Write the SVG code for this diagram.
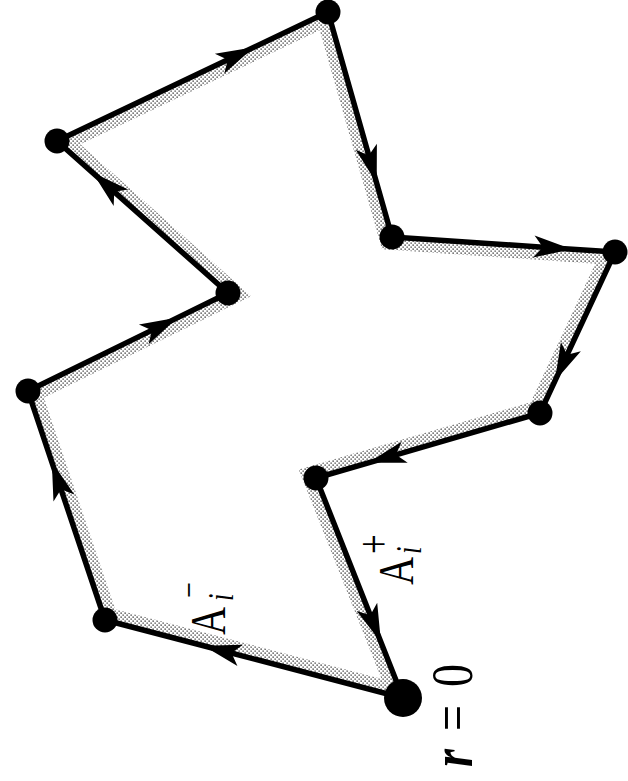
<svg xmlns="http://www.w3.org/2000/svg" width="628" height="781" viewBox="0 0 628 781">
  <style>
    .edge { fill: none; stroke: #000; stroke-width: 5.5; stroke-linejoin: round; marker-mid: url(#arrow); }
    .dot { fill: #000; }
    .band { fill: none; stroke: url(#stipple); stroke-width: 26; stroke-linejoin: miter; }
    .lbl { font-family: "Liberation Serif", "Times New Roman", serif; fill: #000; }
  </style>
  <defs>
    <pattern id="stipple" width="4" height="4" patternUnits="userSpaceOnUse">
      <rect width="4" height="4" fill="#ffffff"/>
      <rect x="0.4" y="0.4" width="1.5" height="1.5" fill="#5a5a5a"/>
      <rect x="2.4" y="2.4" width="1.5" height="1.5" fill="#6a6a6a"/>
    </pattern>
    <marker id="arrow" markerUnits="userSpaceOnUse" viewBox="-30 -13 44 26" refX="0" refY="0" markerWidth="44" markerHeight="26" orient="auto">
      <path d="M11,0 L-27,-11 L-18,0 L-27,11 Z" fill="#000"/>
    </marker>
    <clipPath id="inside">
      <polygon points="403,698 105,620 28,391 228,293 57,141 328,12 392,237 615,252 540,413 316,478"/>
    </clipPath>
  </defs>

  <rect width="628" height="781" fill="#ffffff"/>

  <g id="band">
    <polygon class="band" clip-path="url(#inside)" points="403,698 105,620 28,391 228,293 57,141 328,12 392,237 615,252 540,413 316,478"/>
  </g>

  <g id="connectors">
    <path class="edge" d="M403,698 L214.1,648.5 L105,620"/>
    <path class="edge" d="M105,620 L55.3,472.3 L28,391"/>
    <path class="edge" d="M28,391 L168,322.4 L228,293"/>
    <path class="edge" d="M228,293 L100.8,179.9 L57,141"/>
    <path class="edge" d="M57,141 L244,52 L328,12"/>
    <path class="edge" d="M328,12 L373.7,172.7 L392,237"/>
    <path class="edge" d="M392,237 L560.8,248.4 L615,252"/>
    <path class="edge" d="M615,252 L559.5,371.1 L540,413"/>
    <path class="edge" d="M540,413 L378.7,459.8 L316,478"/>
    <path class="edge" d="M316,478 L376.9,632 L403,698"/>
  </g>

  <g id="v0"><circle class="dot" cx="403" cy="698" r="19"/></g>
  <g id="v1"><circle class="dot" cx="105" cy="620" r="12.5"/></g>
  <g id="v2"><circle class="dot" cx="28" cy="391" r="12.5"/></g>
  <g id="v3"><circle class="dot" cx="228" cy="293" r="12.5"/></g>
  <g id="v4"><circle class="dot" cx="57" cy="141" r="12.5"/></g>
  <g id="v5"><circle class="dot" cx="328" cy="12" r="12.5"/></g>
  <g id="v6"><circle class="dot" cx="392" cy="237" r="12.5"/></g>
  <g id="v7"><circle class="dot" cx="615" cy="252" r="12.5"/></g>
  <g id="v8"><circle class="dot" cx="540" cy="413" r="12.5"/></g>
  <g id="v9"><circle class="dot" cx="316" cy="478" r="12.5"/></g>

  <g id="labels">
    <text class="lbl" font-size="46" transform="translate(472,767) rotate(-90) scale(1,1.27)"><tspan x="0" font-weight="bold" font-style="italic">r</tspan><tspan x="36">=</tspan><tspan x="80">0</tspan></text>
    <text class="lbl" transform="translate(225,635) rotate(-90) scale(1,1.3)"><tspan x="0" y="0" font-size="39">A</tspan><tspan x="34" y="6" font-size="27" font-style="italic">i</tspan><tspan x="37" y="-18.4" font-size="28">−</tspan></text>
    <text class="lbl" transform="translate(413,585) rotate(-90) scale(1,1.3)"><tspan x="0" y="0" font-size="39">A</tspan><tspan x="31" y="6" font-size="27" font-style="italic">i</tspan><tspan x="31" y="-18.8" font-size="35">+</tspan></text>
  </g>
</svg>
